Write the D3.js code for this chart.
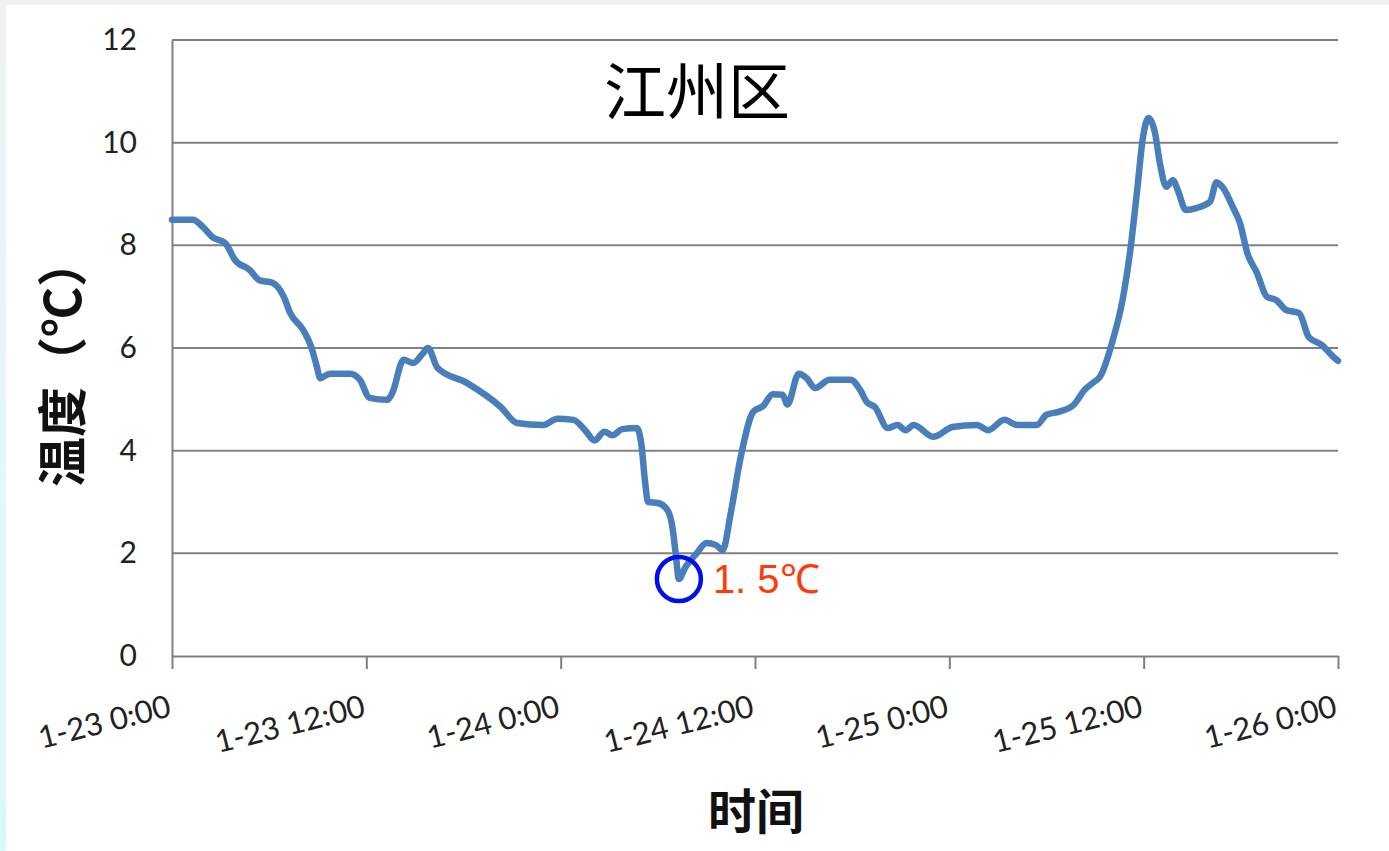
<!DOCTYPE html>
<html>
<head>
<meta charset="utf-8">
<script src="https://cdn.jsdelivr.net/npm/d3@7"></script>
<style>
  html, body { margin: 0; padding: 0; background: #ffffff; }
  svg { display: block; }
</style>
</head>
<body>
<svg id="chart" width="1389" height="851"></svg>
<script>
// Hourly temperature record, hours counted from 1-23 0:00
const hours = [0, 1.3, 1.9, 2.5, 3.3, 3.9, 4.8, 5.4, 6.2, 6.9, 7.3, 8.1, 8.6, 8.95, 9.15, 9.75,
  11.0, 11.6, 12.2, 13.3, 13.6, 14.3, 14.9, 15.5, 15.8, 16.4, 18.2, 20.3, 21.3, 22.9, 23.8,
  24.8, 25.5, 26.1, 26.7, 27.2, 27.8, 28.7, 29.0, 29.2, 29.4, 30.0, 30.6, 30.9, 31.1, 31.3,
  31.7, 32.4, 33.0, 33.6, 34.0, 34.5, 35.1, 35.9, 36.5, 37.1, 37.7, 38.0, 38.7, 39.2, 39.7,
  40.6, 41.9, 42.5, 42.9, 43.4, 44.2, 44.8, 45.3, 45.8, 47.0, 48.2, 49.7, 50.4, 51.4, 52.2,
  53.4, 54.0, 54.8, 55.7, 56.4, 56.9, 57.3, 58.1, 58.7, 59.2, 59.6, 59.96, 60.3, 60.7, 61.0,
  61.4, 61.8, 62.1, 62.6, 63.3, 64.1, 64.5, 64.9, 65.5, 65.95, 66.4, 67.0, 67.6, 68.2, 68.8,
  69.6, 70.2, 71.0, 71.7, 72.0];
const temps = [8.5, 8.5, 8.36, 8.16, 8.04, 7.71, 7.52, 7.32, 7.27, 7.0, 6.68, 6.35, 6.02, 5.63, 5.41, 5.5,
  5.5, 5.38, 5.03, 4.99, 5.12, 5.77, 5.71, 5.9, 6.0, 5.61, 5.32, 4.85, 4.54, 4.5, 4.62,
  4.6, 4.4, 4.2, 4.37, 4.3, 4.42, 4.44, 4.08, 3.43, 3.0, 2.98, 2.84, 2.51, 2.0, 1.5,
  1.73, 2.0, 2.2, 2.16, 2.06, 2.78, 3.85, 4.76, 4.87, 5.1, 5.09, 4.9, 5.5, 5.41, 5.22,
  5.38, 5.38, 5.18, 4.95, 4.85, 4.44, 4.5, 4.4, 4.5, 4.27, 4.46, 4.5, 4.4, 4.6, 4.5,
  4.5, 4.7, 4.76, 4.9, 5.2, 5.33, 5.44, 6.16, 6.94, 7.97, 9.08, 10.11, 10.48, 10.19, 9.6,
  9.14, 9.27, 9.08, 8.69, 8.73, 8.85, 9.23, 9.12, 8.75, 8.43, 7.85, 7.46, 7.0, 6.93, 6.74,
  6.68, 6.21, 6.06, 5.83, 5.75];

const tickHours = [0, 12, 24, 36, 48, 60, 72];
const tickLabels = ["1-23 0:00", "1-23 12:00", "1-24 0:00", "1-24 12:00", "1-25 0:00", "1-25 12:00", "1-26 0:00"];
const yTicks = [0, 2, 4, 6, 8, 10, 12];

const minLabel = "1. 5℃";
const minValue = 1.5;

const svg = d3.select("#chart");
const W = 1389, H = 851;
const plot = { left: 172, right: 1338, top: 40, bottom: 656 };

// page frame: grey top band, grey-to-cyan left band
const defs = svg.append("defs");
const grad = defs.append("linearGradient").attr("id", "edge").attr("x1", 0).attr("y1", 0).attr("x2", 0).attr("y2", 1);
grad.append("stop").attr("offset", "0%").attr("stop-color", "#f1f1f1");
grad.append("stop").attr("offset", "45%").attr("stop-color", "#e6f6f8");
grad.append("stop").attr("offset", "100%").attr("stop-color", "#dcf8fb");
svg.append("rect").attr("x", 0).attr("y", 0).attr("width", W).attr("height", H).attr("fill", "#ffffff");
svg.append("rect").attr("x", 0).attr("y", 0).attr("width", W).attr("height", 5).attr("fill", "#f1f1f1");
svg.append("rect").attr("x", 0).attr("y", 0).attr("width", 6).attr("height", H).attr("fill", "url(#edge)");

const x = d3.scaleLinear().domain([0, 72]).range([plot.left, plot.right]);
const y = d3.scaleLinear().domain([0, 12]).range([plot.bottom, plot.top]);

const gridColor = "#808080";

// horizontal gridlines
svg.append("g").selectAll("line").data(yTicks.filter(d => d > 0)).join("line")
  .attr("x1", plot.left).attr("x2", plot.right)
  .attr("y1", d => y(d)).attr("y2", d => y(d))
  .attr("stroke", gridColor).attr("stroke-width", 2);

// y axis
const yAxis = svg.append("g").attr("transform", `translate(${plot.left},0)`)
  .call(d3.axisLeft(y).tickValues(yTicks).tickSize(0).tickPadding(35).tickFormat(d3.format("d")));
yAxis.select(".domain").attr("stroke", gridColor).attr("stroke-width", 2);
yAxis.selectAll("text")
  .attr("font-family", "Lato, 'Open Sans', sans-serif")
  .attr("font-size", 30).attr("fill", "#222");

// x axis
const xAxis = svg.append("g").attr("transform", `translate(0,${plot.bottom})`)
  .call(d3.axisBottom(x).tickValues(tickHours).tickSize(13).tickSizeOuter(0).tickFormat((d, i) => tickLabels[i]));
xAxis.select(".domain").attr("stroke", gridColor).attr("stroke-width", 2);
xAxis.selectAll(".tick line").attr("stroke", gridColor).attr("stroke-width", 2);
xAxis.selectAll(".tick text")
  .attr("font-family", "Lato, 'Open Sans', sans-serif")
  .attr("font-size", 31).attr("fill", "#222")
  .attr("text-anchor", "end")
  .attr("dy", 0)
  .attr("y", 0)
  .attr("transform", "translate(0,60) rotate(-14)");

// temperature line
const pts = hours.map((h, i) => [h, temps[i]]);
const line = d3.line().x(d => x(d[0])).y(d => y(d[1])).curve(d3.curveMonotoneX);
svg.append("path").datum(pts)
  .attr("d", line)
  .attr("fill", "none")
  .attr("stroke", "#4a7ebb")
  .attr("stroke-width", 6.5)
  .attr("stroke-linejoin", "round")
  .attr("stroke-linecap", "round");

// minimum marker
const minIdx = temps.indexOf(d3.min(temps));
const mx = x(hours[minIdx]), my = y(minValue);
svg.append("circle").attr("cx", mx).attr("cy", my).attr("r", 22)
  .attr("fill", "none").attr("stroke", "#0010e8").attr("stroke-width", 4.5);
svg.append("text").attr("x", mx + 34).attr("y", my + 14)
  .attr("font-family", "'Liberation Sans', Arial, sans-serif")
  .attr("font-size", 40).attr("fill", "#ff3a0a")
  .text(minLabel);

// title
svg.append("text").attr("x", 697).attr("y", 115)
  .attr("text-anchor", "middle")
  .attr("font-family", "'Noto Sans CJK SC', sans-serif")
  .attr("font-size", 62).attr("fill", "#000")
  .text("江州区");

// axis titles
svg.append("text").attr("x", 756).attr("y", 829)
  .attr("text-anchor", "middle")
  .attr("font-family", "'Noto Sans CJK SC', sans-serif")
  .attr("font-weight", "bold")
  .attr("font-size", 48).attr("fill", "#111")
  .text("时间");

svg.append("text")
  .attr("transform", "translate(81,362) rotate(-90)")
  .attr("text-anchor", "middle")
  .attr("font-family", "'Noto Sans CJK SC', sans-serif")
  .attr("font-weight", "bold")
  .attr("font-size", 50).attr("fill", "#111")
  .text("温度（℃）");
</script>
</body>
</html>
